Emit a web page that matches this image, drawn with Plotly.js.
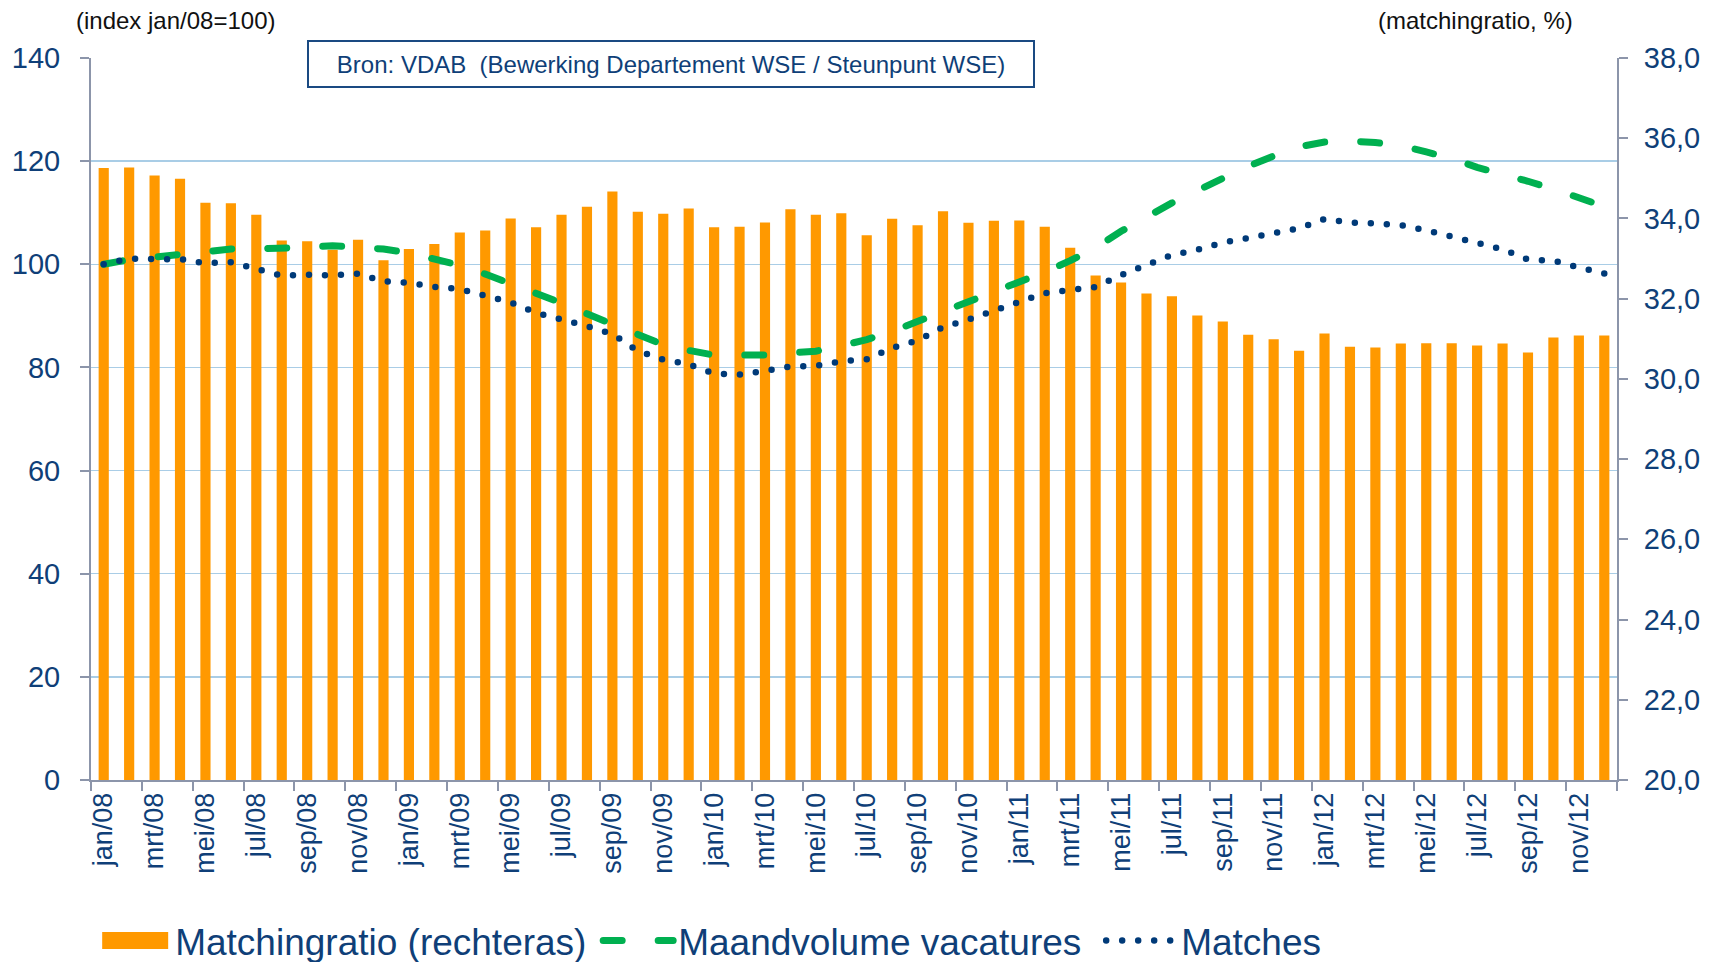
<!DOCTYPE html>
<html>
<head>
<meta charset="utf-8">
<script src="https://cdn.plot.ly/plotly-3.0.1.min.js"></script>
<style>
  html, body { margin: 0; padding: 0; background: #ffffff; }
  #chart { width: 1715px; height: 962px; }
  .scatterlayer .js-line, .legend .js-line { stroke-linecap: round !important; }
</style>
</head>
<body>
<div id="chart"></div>
<script>
// Months (category labels)
const months = [
  "jan/08","feb/08","mrt/08","apr/08","mei/08","jun/08","jul/08","aug/08","sep/08","okt/08","nov/08","dec/08",
  "jan/09","feb/09","mrt/09","apr/09","mei/09","jun/09","jul/09","aug/09","sep/09","okt/09","nov/09","dec/09",
  "jan/10","feb/10","mrt/10","apr/10","mei/10","jun/10","jul/10","aug/10","sep/10","okt/10","nov/10","dec/10",
  "jan/11","feb/11","mrt/11","apr/11","mei/11","jun/11","jul/11","aug/11","sep/11","okt/11","nov/11","dec/11",
  "jan/12","feb/12","mrt/12","apr/12","mei/12","jun/12","jul/12","aug/12","sep/12","okt/12","nov/12","dec/12"
];

// Matchingratio (%), right axis
const matchingratio = [
  35.26, 35.27, 35.07, 34.99, 34.39, 34.38, 34.09, 33.45, 33.43, 33.22,
  33.47, 32.96, 33.24, 33.36, 33.65, 33.70, 34.00, 33.78, 34.09, 34.29,
  34.67, 34.17, 34.12, 34.25, 33.78, 33.79, 33.90, 34.23, 34.09, 34.13,
  33.58, 33.99, 33.83, 34.18, 33.89, 33.94, 33.95, 33.79, 33.27, 32.58,
  32.40, 32.13, 32.06, 31.58, 31.43, 31.10, 30.99, 30.70, 31.13, 30.80,
  30.78, 30.88, 30.89, 30.89, 30.83, 30.88, 30.66, 31.03, 31.08, 31.08
];

// Maandvolume vacatures (index jan/08 = 100), left axis
const vacatures = [
  100.0, 100.9, 101.4, 102.0, 102.5, 102.95, 103.0, 103.0, 103.3, 103.6,
  103.3, 102.95, 102.2, 101.1, 99.8, 98.1, 96.3, 94.4, 92.5, 90.4,
  88.3, 86.2, 84.4, 83.3, 82.4, 82.4, 82.4, 82.8, 83.15, 84.2,
  85.4, 87.0, 88.9, 90.6, 92.6, 94.5, 96.4, 98.5, 100.7, 103.2,
  106.4, 109.2, 111.9, 114.3, 116.8, 119.0, 121.0, 122.8, 123.7, 123.9,
  123.6, 123.0, 121.8, 120.5, 118.8, 117.6, 116.1, 114.6, 113.0, 111.2
];

// Matches (index jan/08 = 100), left axis
const matches = [
  100.0, 101.1, 101.0, 101.0, 100.2, 100.4, 99.1, 97.8, 98.0, 97.85,
  98.2, 96.7, 96.4, 95.6, 95.2, 93.8, 92.6, 90.6, 89.4, 88.0,
  86.5, 83.2, 81.5, 80.6, 78.8, 78.6, 79.3, 80.2, 80.3, 81.2,
  81.6, 83.8, 85.2, 87.8, 89.3, 91.1, 92.9, 94.4, 95.0, 95.6,
  97.9, 99.9, 101.8, 102.8, 104.2, 105.1, 106.2, 107.0, 108.8, 108.1,
  107.9, 107.6, 106.6, 105.3, 104.1, 102.9, 100.9, 100.7, 99.4, 98.2
];

const BLUE = "#0f3f78";
const GRAY = "#8c95aa";
const FONT = "Liberation Sans, Arial, sans-serif";

const traces = [
  {
    type: "bar", name: "Matchingratio (rechteras)",
    x: months, y: matchingratio, yaxis: "y",
    width: 0.4,
    marker: { color: "#ff9900", line: { width: 0 } },
    hoverinfo: "x+y"
  },
  {
    type: "scatter", mode: "lines", name: "Maandvolume vacatures",
    x: months, y: vacatures, yaxis: "y2",
    line: { color: "#00b050", width: 7, dash: "19px,36px" }
  },
  {
    type: "scatter", mode: "lines", name: "Matches",
    x: months, y: matches, yaxis: "y2",
    line: { color: "#003a78", width: 6.5, dash: "0px,16px" }
  }
];

const layout = {
  width: 1715, height: 962,
  margin: { l: 91, r: 98, t: 58, b: 182 },
  paper_bgcolor: "#ffffff", plot_bgcolor: "rgba(0,0,0,0)",
  separators: ",.",
  font: { family: FONT, color: BLUE },
  showlegend: true,
  xaxis: {
    type: "category",
    categoryorder: "array", categoryarray: months,
    range: [-0.5, 59.5],
    tickmode: "linear", tick0: 0, dtick: 2,
    tickson: "boundaries",
    ticks: "outside", ticklen: 9, tickwidth: 2, tickcolor: GRAY,
    tickangle: -90,
    tickfont: { family: FONT, size: 27, color: BLUE },
    showline: true, linecolor: GRAY, linewidth: 2,
    showgrid: false, zeroline: false, automargin: false
  },
  yaxis: {
    side: "right",
    range: [20, 38], dtick: 2, tick0: 20,
    tickformat: ".1f",
    ticks: "outside", ticklen: 9, tickwidth: 2, tickcolor: GRAY,
    ticklabelstandoff: 10,
    tickfont: { family: FONT, size: 29, color: BLUE },
    showline: true, linecolor: GRAY, linewidth: 2,
    showgrid: false, zeroline: false, automargin: false
  },
  yaxis2: {
    overlaying: "y", side: "left",
    range: [0, 140], dtick: 20, tick0: 0,
    ticks: "outside", ticklen: 9, tickwidth: 2, tickcolor: GRAY,
    ticklabelstandoff: 14,
    tickfont: { family: FONT, size: 29, color: BLUE },
    showline: true, linecolor: GRAY, linewidth: 2,
    showgrid: true, gridcolor: "#a9cde6", gridwidth: 1.5,
    zeroline: false, automargin: false
  },
  legend: {
    orientation: "h",
    xref: "container", x: 0.0555, xanchor: "left",
    yref: "container", y: 0.0218, yanchor: "middle",
    font: { family: FONT, size: 37, color: BLUE },
    itemwidth: 70,
    entrywidth: 418, entrywidthmode: "pixels",
    bgcolor: "rgba(0,0,0,0)",
    traceorder: "normal"
  },
  annotations: [
    {
      xref: "paper", yref: "paper", x: -0.0111, y: 1.0526,
      xanchor: "left", yanchor: "middle", showarrow: false,
      text: "(index jan/08=100)",
      font: { family: FONT, size: 24, color: "#111111" }
    },
    {
      xref: "paper", yref: "paper", x: 0.9725, y: 1.0526,
      xanchor: "right", yanchor: "middle", showarrow: false,
      text: "(matchingratio, %)",
      font: { family: FONT, size: 24, color: "#111111" }
    },
    {
      xref: "paper", yref: "paper", x: 0.380, y: 0.9917,
      xanchor: "center", yanchor: "middle", showarrow: false,
      text: "Bron: VDAB  (Bewerking Departement WSE / Steunpunt WSE)",
      font: { family: FONT, size: 24, color: BLUE },
      bgcolor: "#ffffff", bordercolor: "#1a4a82", borderwidth: 2,
      width: 722, height: 42, borderpad: 1
    }
  ]
};

Plotly.newPlot("chart", traces, layout, { displayModeBar: false, staticPlot: true }).then(function (gd) {
  // widen the bar legend swatch into a wide rectangle like the original
  const first = gd.querySelector(".legend .traces .legendpoints path");
  if (first) {
    first.setAttribute("d", "M-33,8.5H33V-8.5H-33Z");
  }
});
</script>
</body>
</html>
